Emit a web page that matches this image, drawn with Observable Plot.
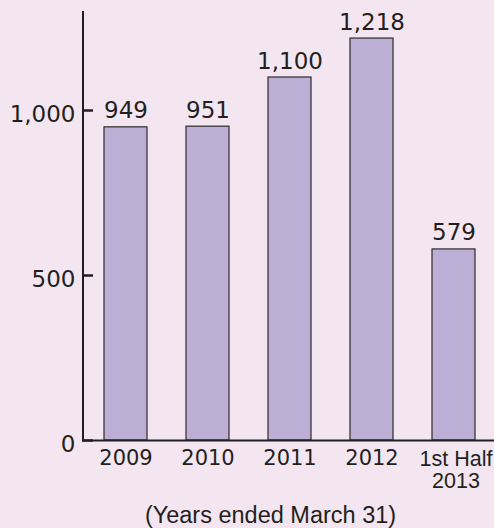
<!DOCTYPE html>
<html>
<head>
<meta charset="utf-8">
<script src="https://cdn.jsdelivr.net/npm/d3@7"></script>
<script src="https://cdn.jsdelivr.net/npm/@observablehq/plot@0.6"></script>
<style>
  html, body { margin: 0; padding: 0; background: #f3e6f1; }
  #chart svg { display: block; }
</style>
</head>
<body>
<div id="chart"></div>
<script>
const categories = ["2009", "2010", "2011", "2012", "1st Half\n2013"];
const values = [949, 951, 1100, 1218, 579];
const yTicks = [0, 500, 1000];
const yMax = 1300;
const caption = "(Years ended March 31)";

const data = categories.map((c, i) => ({category: c, value: values[i]}));
const fmt = d3.format(",");
const W = 494, H = 528, mL = 82, mR = 0, mT = 11, mB = 88;
const ink = "#231f20";

const yAxisLine = (index, {y}, values, dims) => {
  const ns = "http://www.w3.org/2000/svg";
  const l = document.createElementNS(ns, "line");
  const xPos = dims.marginLeft + 1;
  l.setAttribute("x1", xPos);
  l.setAttribute("x2", xPos);
  l.setAttribute("y1", y(yMax));
  l.setAttribute("y2", y(0) + 1);
  l.setAttribute("stroke", ink);
  l.setAttribute("stroke-width", 2);
  return l;
};

const chart = Plot.plot({
  width: W,
  height: H,
  marginLeft: mL,
  marginRight: mR,
  marginTop: mT,
  marginBottom: mB,
  style: {background: "#f3e6f1", color: ink, fontFamily: "DejaVu Sans", overflow: "visible"},
  x: {domain: categories, type: "band", paddingInner: 0.48, paddingOuter: 0.225, align: 0.536, label: null},
  y: {domain: [0, yMax], label: null},
  marks: [
    Plot.barY(data, {x: "category", y: "value", fill: "#bdaed5", stroke: "#2b2b2b", strokeWidth: 1.2}),
    Plot.ruleY([0], {stroke: ink, strokeWidth: 2}),
    Plot.tickY(yTicks, {y: d => d, stroke: ink, strokeWidth: 2.5, insetRight: W - mL - mR - 11}),
    yAxisLine,
    Plot.axisY(yTicks, {tickFormat: fmt, tickSize: 0, tickPadding: 7, fontSize: 23, dy: 4, label: null}),
    Plot.axisX(categories.slice(0, 4), {tickSize: 0, tickPadding: 10, fontSize: 21, label: null}),
    Plot.axisX(categories.slice(4), {tickSize: 0, tickPadding: 10, fontSize: 21.5, lineHeight: 1.02, fontFamily: "Liberation Sans", dx: 2, label: null}),
    Plot.text(data, {x: "category", y: "value", text: d => fmt(d.value), dy: -9, lineAnchor: "bottom", fontSize: 23, fill: ink}),
    Plot.text([caption], {frameAnchor: "bottom", text: d => d, dx: -18, dy: 82, lineAnchor: "bottom", fontSize: 23.5, fontFamily: "Liberation Sans", fill: ink})
  ]
});
document.getElementById("chart").appendChild(chart);
</script>
</body>
</html>
